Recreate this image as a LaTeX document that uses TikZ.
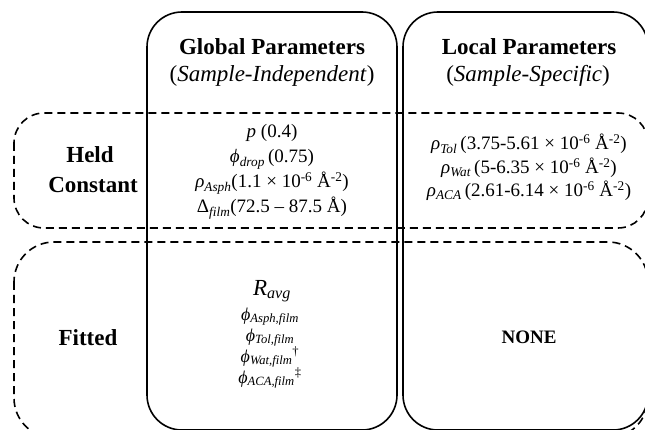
\documentclass[tikz,border=0pt]{standalone}
\usepackage{fontspec}
\setmainfont{Liberation Serif}
\newcommand\fs[1]{\fontsize{#1}{#1}\selectfont}
\newcommand\sbs[1]{\textsubscript{\itshape #1}}
\newcommand\gk[1]{{\itshape #1}}
\begin{document}
\begin{tikzpicture}[x=1pt,y=-1pt,
  solidbox/.style={draw=black,line width=1.6pt,rounded corners=35pt},
  dashbox/.style={draw=black,line width=1.6pt,dash pattern=on 8pt off 5pt},
  headtext/.style={font=\fs{23}\bfseries,anchor=base,inner sep=0pt},
  subhead/.style={font=\fs{23},anchor=base,inner sep=0pt},
  rowlabel/.style={font=\fs{23}\bfseries,anchor=base,inner sep=0pt},
  heldtext/.style={font=\fs{19},anchor=base,inner sep=0pt},
  fittext/.style={font=\fs{18},anchor=base,inner sep=0pt}]
\useasboundingbox (0,0) rectangle (645,430);
\fill[white] (0,0) rectangle (645,430);
\begin{scope}
\clip (0,0) rectangle (645,430);
\draw[solidbox] (147,12) rectangle (397,430);
\draw[solidbox] (403,12) rectangle (648,430);
\draw[dashbox,rounded corners=30pt] (14,113) rectangle (648,228);
\draw[dashbox,rounded corners=40pt] (14,242) rectangle (648,438);
\end{scope}
% headers
\node[headtext] (gh) at (272,55) {Global Parameters};
\node[subhead] (gs) at (272,82) {(\textit{Sample-Independent})};
\node[headtext] (lh) at (529,55) {Local Parameters};
\node[subhead] (ls) at (528,82) {(\textit{Sample-Specific})};
% row labels
\node[rowlabel] (held) at (90,163) {Held};
\node[rowlabel] (const) at (93,193) {Constant};
\node[rowlabel] (fit) at (88,345) {Fitted};
\node[font=\fs{19}\bfseries,anchor=base,inner sep=0pt] (none) at (529,343) {NONE};
% global held
\node[heldtext] (g1) at (272,138) {\gk{p} (0.4)};
\node[heldtext] (g2) at (272,163) {\gk{ϕ}\sbs{drop}\,(0.75)};
\node[heldtext] (g3) at (272,188) {\gk{ρ}\sbs{Asph}(1.1 × 10\textsuperscript{-6} Å\textsuperscript{-2})};
\node[heldtext] (g4) at (272,213) {Δ\sbs{film}(72.5 – 87.5 Å)};
% local held
\node[heldtext] (l1) at (529,150) {\gk{ρ}\sbs{Tol}\,(3.75-5.61 × 10\textsuperscript{-6} Å\textsuperscript{-2})};
\node[heldtext] (l2) at (529,173.5) {\gk{ρ}\sbs{Wat}\,(5-6.35 × 10\textsuperscript{-6} Å\textsuperscript{-2})};
\node[heldtext] (l3) at (529,197) {\gk{ρ}\sbs{ACA}\,(2.61-6.14 × 10\textsuperscript{-6} Å\textsuperscript{-2})};
% global fitted
\node[font=\fs{23},anchor=base,inner sep=0pt] (f1) at (272,295) {\gk{R}\sbs{avg}};
\node[fittext] (f2) at (270,320) {\gk{ϕ}\sbs{Asph,film}};
\node[fittext] (f3) at (270,341) {\gk{ϕ}\sbs{Tol,film}};
\node[fittext] (f4) at (270,362) {\gk{ϕ}\sbs{Wat,film}\textsuperscript{†}};
\node[fittext] (f5) at (270,383) {\gk{ϕ}\sbs{ACA,film}\textsuperscript{‡}};
\end{tikzpicture}
\end{document}
